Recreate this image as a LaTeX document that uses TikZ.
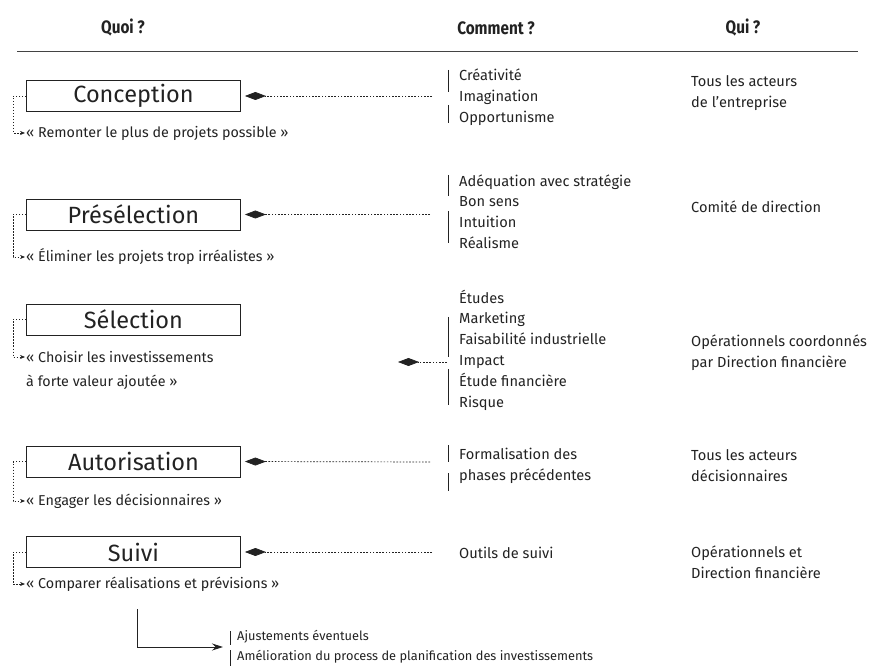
\documentclass[tikz,border=0pt]{standalone}
\usepackage{fontspec}
\usepackage{graphicx}
\setmainfont{Fira Sans}
\usetikzlibrary{arrows.meta}
\definecolor{ink}{HTML}{222222}
\newcommand{\hdrtext}[1]{\scalebox{0.85}[1]{#1}}
\begin{document}
\begin{tikzpicture}[x=1pt,y=-1pt,
  every node/.style={text=ink},
  hdr/.style={font=\bfseries\fontsize{18}{21}\selectfont, inner sep=0pt},
  phase/.style={draw=ink, line width=0.9pt, minimum width=214pt, minimum height=31pt, inner sep=0pt, anchor=west, font=\fontsize{23.5}{26}\selectfont},
  quote/.style={anchor=west, inner sep=1pt, font=\fontsize{14.3}{17}\selectfont},
  txt/.style={anchor=west, align=left, inner sep=0pt, font=\fontsize{14.6}{20.8}\selectfont},
  small/.style={anchor=west, align=left, inner sep=0pt, font=\fontsize{12.8}{20}\selectfont},
  loopline/.style={draw=ink, line width=0.6pt, dash pattern=on 1.5pt off 1.5pt, -{Stealth[length=5pt,width=4pt]}},
  dotline/.style={draw=ink, line width=0.7pt, dash pattern=on 1.6pt off 1.6pt, -{Diamond[length=21pt,width=8pt,sep=0pt]}},
  bar/.style={draw=ink, line width=0.9pt},
  mainarrow/.style={draw=ink, line width=0.9pt, -{Stealth[length=11pt,width=7pt]}}
]
\useasboundingbox (0,0) rectangle (873,668);

% headers
\node[hdr] (h1) at (123,28) {\hdrtext{Quoi ?}};
\node[hdr] (h2) at (496,28) {\hdrtext{Comment ?}};
\node[hdr] (h3) at (743,28) {\hdrtext{Qui ?}};
\draw[draw=ink!85, line width=1pt] (17,52) -- (858,52);

% phase boxes
\node[phase] (b1) at (26,96) {Conception};
\node[phase] (b2) at (26,214.5) {Présélection};
\node[phase] (b3) at (26,319.5) {Sélection};
\node[phase] (b4) at (26,461.5) {Autorisation};
\node[phase] (b5) at (26,552) {Suivi};

% quotes
\node[quote] (q1) at (25,133) {«~Remonter le plus de projets possible~»};
\node[quote] (q2) at (25,257) {«~Éliminer les projets trop irréalistes~»};
\node[quote] (q3) at (25,357) {«~Choisir les investissements};
\node[quote] (q3b) at (25,382) {à forte valeur ajoutée~»};
\node[quote] (q4) at (25,501) {«~Engager les décisionnaires~»};
\node[quote] (q5) at (25,584) {«~Comparer réalisations et prévisions~»};

\draw[loopline] (b1.west) -- ++(-13,0) |- (q1.west);
\draw[loopline] (b2.west) -- ++(-13,0) |- (q2.west);
\draw[loopline] (b3.west) -- ++(-13,0) |- (q3.west);
\draw[loopline] (b4.west) -- ++(-13,0) |- (q4.west);
\draw[loopline] (b5.west) -- ++(-13,0) |- (q5.west);

% comment lists
\node[txt] (c1) at (459,97) {Créativité\\Imagination\\Opportunisme};
\node[txt] (c2) at (459,211.5) {Adéquation avec stratégie\\Bon sens\\Intuition\\Réalisme};
\node[txt] (c3) at (459,350) {Études\\Marketing\\Faisabilité industrielle\\Impact\\Étude financière\\Risque};
\node[txt] (c4) at (459,466) {Formalisation des\\phases précédentes};
\node[txt] (c5) at (459,553) {Outils de suivi};
\node[small] (c6) at (237,647) {Ajustements éventuels\\Amélioration du process de planification des investissements};

% bars
\draw[bar] (448,70) -- (448,92);
\draw[bar] (448,105) -- (448,123);
\draw[bar] (448,175) -- (448,196);
\draw[bar] (448,211) -- (448,243);
\draw[bar] (448,317) -- (448,357);
\draw[bar] (448,369) -- (448,405);
\draw[bar] (448,445) -- (448,462);
\draw[bar] (448,473) -- (448,491);
\draw[bar] (230,631) -- (230,645);
\draw[bar] (230,650) -- (230,666);

% dotted connectors with diamonds
\coordinate (d1) at (432,96);
\coordinate (d2) at (430,214.5);
\coordinate (d3s) at (447,362);
\coordinate (d3e) at (398,362);
\coordinate (d4) at (430,462);
\coordinate (d5) at (432,552);
\draw[dotline, shorten >=4pt] (d1) -- (b1.east);
\draw[dotline, shorten >=4pt] (d2) -- (b2.east);
\draw[dotline] (d3s) -- (d3e);
\draw[dotline, shorten >=4pt] (d4) -- (b4.east);
\draw[dotline, shorten >=4pt] (d5) -- (b5.east);

% who
\node[txt] (w1) at (691,93) {Tous les acteurs\\de l’entreprise};
\node[txt] (w2) at (691,207) {Comité de direction};
\node[txt] (w3) at (691,352.5) {Opérationnels coordonnés\\par Direction financière};
\node[txt] (w4) at (691,465.5) {Tous les acteurs\\décisionnaires};
\node[txt] (w5) at (691,562.5) {Opérationnels et\\Direction financière};

% final arrow
\coordinate (s0) at (137,609);
\coordinate (s1) at (223,647);
\draw[mainarrow] (s0) |- (s1);
\end{tikzpicture}
\end{document}
